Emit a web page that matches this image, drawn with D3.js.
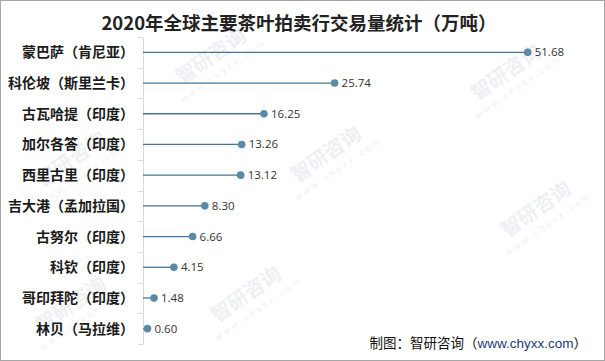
<!DOCTYPE html>
<html><head><meta charset="utf-8">
<script src="https://cdn.jsdelivr.net/npm/d3@7"></script>
<style>html,body{margin:0;padding:0;background:#fff;}svg{display:block;}</style>
</head><body>
<script>
const categories = ["蒙巴萨（肯尼亚）","科伦坡（斯里兰卡）","古瓦哈提（印度）","加尔各答（印度）","西里古里（印度）","吉大港（孟加拉国）","古努尔（印度）","科钦（印度）","哥印拜陀（印度）","林贝（马拉维）"];
const values = [51.68, 25.74, 16.25, 13.26, 13.12, 8.30, 6.66, 4.15, 1.48, 0.60];
const valueLabels = ["51.68","25.74","16.25","13.26","13.12","8.30","6.66","4.15","1.48","0.60"];
const titleText = "2020年全球主要茶叶拍卖行交易量统计（万吨）";

const W = 605, H = 361;
const svg = d3.select("body").append("svg").attr("width", W).attr("height", H);
svg.append("rect").attr("x",0).attr("y",0).attr("width",W).attr("height",H).attr("fill","#fff");

// faint watermarks (kept inside the frame)
const wm = svg.append("g");
const wmPos = [[215,62],[510,78],[330,160],[75,165],[540,215],[250,300],[75,310]];
wmPos.forEach(([x,y])=>{
  const g = wm.append("g").attr("transform",`translate(${x},${y}) rotate(-35)`);
  g.append("text").attr("x",0).attr("y",0).attr("text-anchor","middle")
    .attr("font-family","Noto Sans CJK SC").attr("font-weight",700).attr("font-size",20)
    .attr("fill","#eef0f3").text("智研咨询");
  g.append("text").attr("x",2).attr("y",15).attr("text-anchor","middle")
    .attr("font-family","Liberation Sans").attr("font-size",9).attr("letter-spacing",3)
    .attr("fill","#eef0f3").text("www.chyxx.com");
});

const x = d3.scaleLinear().domain([0, 60]).range([143, 143 + 60*7.444]);
const y = d3.scaleBand().domain(categories).range([37, 344]).paddingInner(0).paddingOuter(0);

// axis
const axis = d3.axisLeft(y).tickSize(0).tickFormat("");
const ag = svg.append("g").attr("transform","translate(143,0)").call(axis);
ag.select(".domain").attr("stroke","#d9d9d9").attr("stroke-width",1);
// boundary ticks
const bounds = categories.map(c=>y(c)).concat([y.range()[1]]);
svg.append("g").selectAll("line").data(bounds).join("line")
  .attr("x1",138).attr("x2",143).attr("y1",d=>Math.round(d)+0.5).attr("y2",d=>Math.round(d)+0.5)
  .attr("stroke","#d9d9d9");

// category labels
svg.append("g").selectAll("text").data(categories).join("text")
  .attr("x",134).attr("y",c=>y(c)+y.bandwidth()/2).attr("dy","0.36em")
  .attr("text-anchor","end").attr("font-family","Noto Sans CJK SC").attr("font-weight",700)
  .attr("font-size",14).attr("fill","#1a1a1a").text(d=>d);

const data = categories.map((c,i)=>({c, v: values[i], l: valueLabels[i]}));
const cy = d => y(d.c) + y.bandwidth()/2;

svg.append("g").selectAll("line").data(data).join("line")
  .attr("x1", x(0)).attr("x2", d=>x(d.v)).attr("y1", cy).attr("y2", cy)
  .attr("stroke","#4a7396").attr("stroke-width",1.3);
svg.append("g").selectAll("circle").data(data).join("circle")
  .attr("cx", d=>x(d.v)).attr("cy", cy).attr("r",3.8).attr("fill","#5a8aa6");
svg.append("g").selectAll("text").data(data).join("text")
  .attr("x", d=>x(d.v)+7).attr("y", cy).attr("dy","0.35em")
  .attr("font-family","Open Sans, Liberation Sans").attr("font-size",11.5).attr("fill","#333")
  .text(d=>d.l);

// title
svg.append("text").attr("x",299).attr("y",30).attr("text-anchor","middle")
  .attr("font-family","Noto Sans CJK SC").attr("font-weight",700).attr("font-size",18.5)
  .attr("fill","#222").text(titleText);

// source
const src = svg.append("text").attr("x",587).attr("y",348).attr("text-anchor","end")
  .attr("font-family","Noto Sans CJK SC").attr("font-size",13.5).attr("fill","#111");
src.append("tspan").text("制图：智研咨询（");
src.append("tspan").attr("fill","#1d3c78").attr("font-family","Liberation Sans").text("www.chyxx.com");
src.append("tspan").text("）");

// frame
svg.append("rect").attr("x",0.5).attr("y",0.5).attr("width",W-1).attr("height",H-1)
  .attr("fill","none").attr("stroke","#a6a6a6");
</script>
</body></html>
